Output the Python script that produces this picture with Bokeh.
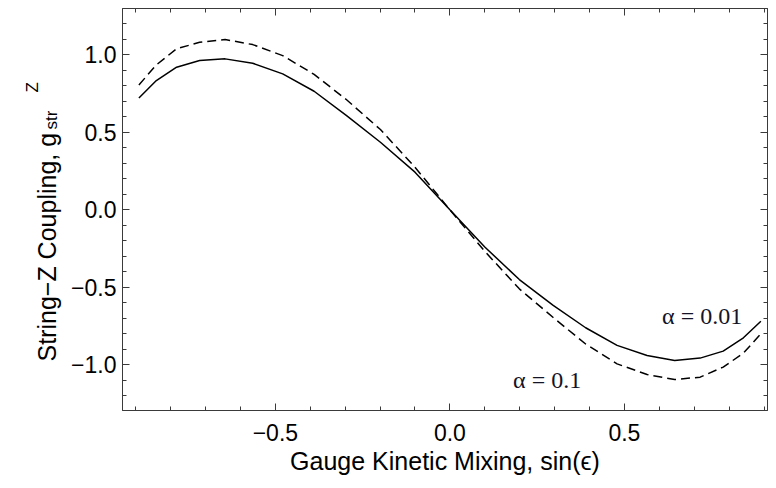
import math
from bokeh.plotting import figure
from bokeh.models import Range1d, FixedTicker, LinearAxis, Label, CustomJSTickFormatter
from bokeh.embed import file_html
from bokeh.resources import INLINE

# x = sin(epsilon)
sin_eps = [-0.891, -0.841, -0.783, -0.717, -0.644, -0.565, -0.479, -0.389, -0.296, -0.199, -0.100,
           0.0, 0.100, 0.199, 0.296, 0.389, 0.479, 0.565, 0.644, 0.717, 0.783, 0.841, 0.891]
# alpha = 0.01 (solid)
g_alpha_001 = [0.722, 0.834, 0.920, 0.963, 0.974, 0.946, 0.877, 0.765, 0.608, 0.436, 0.243,
               0.0, -0.240, -0.450, -0.617, -0.761, -0.875, -0.940, -0.972, -0.957, -0.912, -0.826, -0.719]
# alpha = 0.1 (dashed)
g_alpha_01 = [0.806, 0.935, 1.039, 1.081, 1.099, 1.066, 0.995, 0.874, 0.710, 0.518, 0.275,
              0.0, -0.268, -0.510, -0.695, -0.866, -0.994, -1.063, -1.095, -1.080, -1.015, -0.925, -0.800]

x_major = [-0.5, 0.0, 0.5]
x_minor = [-0.9, -0.8, -0.7, -0.6, -0.4, -0.3, -0.2, -0.1, 0.1, 0.2, 0.3, 0.4, 0.6, 0.7, 0.8, 0.9]
y_major = [-1.0, -0.5, 0.0, 0.5, 1.0]
y_minor = [-1.2, -1.1, -0.9, -0.8, -0.7, -0.6, -0.4, -0.3, -0.2, -0.1,
           0.1, 0.2, 0.3, 0.4, 0.6, 0.7, 0.8, 0.9, 1.1, 1.2]

x_label = "Gauge Kinetic Mixing, sin(ϵ)"
y_label_main = "String−Z Coupling, g"
y_label_sub = "str"
y_label_sup = "Z"
curve_labels = ["α = 0.01", "α = 0.1"]

SANS = "Liberation Sans"
SERIF = "Liberation Serif"
FRAME = "#3a3a3a"

p = figure(width=768, height=480, output_backend="svg", toolbar_location=None,
           x_range=Range1d(-0.938, 0.910), y_range=Range1d(-1.295, 1.299),
           min_border_left=122, min_border_right=1, min_border_top=8, min_border_bottom=70,
           background_fill_color="white", border_fill_color="white")
p.xgrid.visible = False
p.ygrid.visible = False
p.outline_line_color = FRAME
p.outline_line_width = 1

fmt = CustomJSTickFormatter(code="return (tick < -1e-9 ? '\u2212' : '') + Math.abs(tick).toFixed(1);")
blank = CustomJSTickFormatter(code="return '';")

def style_axis(ax, ticker, show_labels):
    ax.ticker = ticker
    ax.axis_line_color = FRAME
    ax.major_tick_line_color = FRAME
    ax.minor_tick_line_color = FRAME
    ax.major_tick_in = 7
    ax.major_tick_out = 0
    ax.minor_tick_in = 4
    ax.minor_tick_out = 0
    if show_labels:
        ax.formatter = fmt
        ax.major_label_text_font = SANS
        ax.major_label_text_font_size = "23px"
        ax.major_label_text_color = "black"
    else:
        ax.formatter = blank
        ax.major_label_standoff = 0

xt = FixedTicker(ticks=x_major, minor_ticks=x_minor)
yt = FixedTicker(ticks=y_major, minor_ticks=y_minor)

style_axis(p.xaxis[0], xt, True)
p.xaxis[0].major_label_standoff = 13
p.xaxis[0].axis_label = x_label
p.xaxis[0].axis_label_text_font = SANS
p.xaxis[0].axis_label_text_font_size = "25px"
p.xaxis[0].axis_label_text_font_style = "normal"
p.xaxis[0].axis_label_text_color = "black"
p.xaxis[0].axis_label_standoff = 3
style_axis(p.yaxis[0], yt, True)
p.yaxis[0].major_label_standoff = 6

top = LinearAxis()
style_axis(top, FixedTicker(ticks=x_major, minor_ticks=x_minor), False)
p.add_layout(top, "above")
right = LinearAxis()
style_axis(right, FixedTicker(ticks=y_major, minor_ticks=y_minor), False)
p.add_layout(right, "right")

p.line(sin_eps, g_alpha_01, line_color="black", line_width=1.5, line_dash="9 5")
p.line(sin_eps, g_alpha_001, line_color="black", line_width=1.5)

# curve annotations
p.add_layout(Label(x=0.608, y=-0.682, text=curve_labels[0], text_font=SERIF,
                   text_font_size="24px", text_color="#141428", text_baseline="alphabetic"))
p.add_layout(Label(x=0.181, y=-1.095, text=curve_labels[1], text_font=SERIF,
                   text_font_size="24px", text_color="#141428", text_baseline="alphabetic"))

# y axis label in pieces (rotated), placed in the left side panel
rot = math.pi / 2
def ylab(x, y, text, size, style="normal"):
    p.add_layout(Label(x=x, y=y, x_units="canvas", y_units="canvas", text=text, angle=rot,
                       text_font=SANS, text_font_style=style, text_font_size=size,
                       text_baseline="alphabetic", text_color="black"), "left")

ylab(46, 361, y_label_main, "25px")
ylab(51, 129, y_label_sub, "17px")
ylab(32, 92, y_label_sup, "17px")

open("out.html", "w").write(file_html(p, INLINE))
